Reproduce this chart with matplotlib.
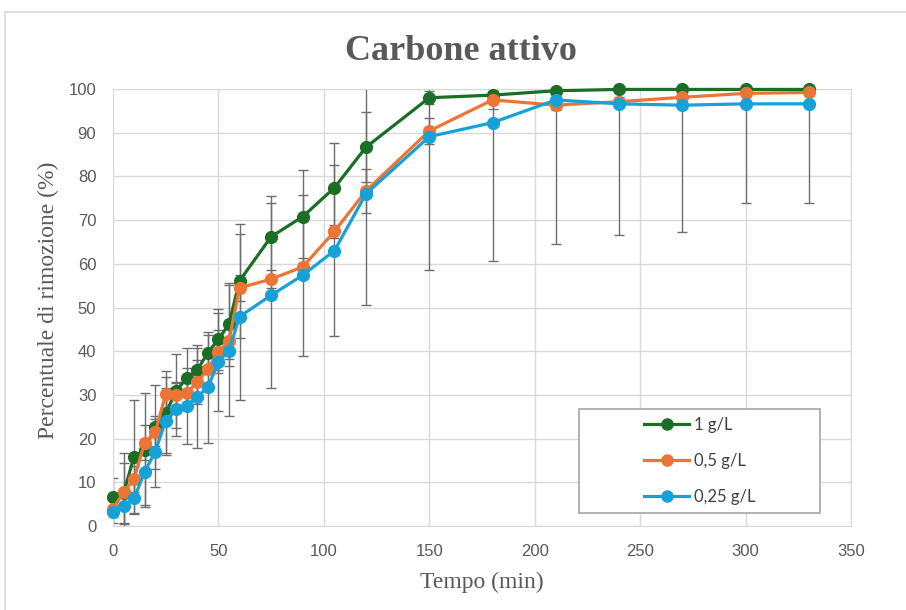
import matplotlib
matplotlib.use("Agg")
import matplotlib.pyplot as plt
from matplotlib.lines import Line2D
from matplotlib.patches import Rectangle

# datos
tempo = [0, 5, 10, 15, 20, 25, 30, 35, 40, 45, 50, 55, 60, 75, 90, 105, 120, 150, 180, 210, 240, 270, 300, 330]

serie_1 = [6.7, 7.5, 15.9, 17.4, 22.7, 25.9, 30.9, 33.9, 35.7, 39.7, 42.7, 46.2, 56.1, 66.2, 70.8, 77.4, 86.7, 98.0, 98.6, 99.6, 99.9, 99.9, 99.9, 99.9]
err_1 = [4.2, 7.0, 12.9, 13.0, 9.6, 9.6, 8.5, 6.8, 5.0, 4.0, 7.0, 9.5, 13.0, 9.3, 10.7, 10.3, 8.0, 1.5, 1.0, 0.3, 0.1, 0.1, 0.1, 0.1]

serie_05 = [4.0, 7.7, 10.7, 19.1, 21.4, 30.2, 30.0, 30.5, 32.9, 35.9, 39.9, 42.3, 54.5, 56.5, 59.3, 67.4, 76.7, 90.4, 97.5, 96.3, 97.1, 98.1, 99.0, 99.2]
err_05 = [2.0, 9.0, 3.0, 4.0, 3.0, 4.0, 3.0, 3.0, 5.0, 4.0, 5.0, 4.0, 3.0, 2.0, 2.0, 1.5, 5.0, 3.0, 2.0, 1.0, 1.0, 1.0, 0.5, 0.5]

serie_025 = [3.1, 4.6, 6.3, 12.4, 17.0, 24.1, 26.7, 27.5, 29.6, 31.7, 37.6, 40.1, 47.9, 52.8, 57.4, 63.0, 76.0, 89.1, 92.3, 97.5, 96.6, 96.3, 96.6, 96.6]
err_025 = [2.5, 4.0, 3.5, 7.5, 8.1, 7.5, 6.1, 8.7, 11.8, 12.6, 11.2, 15.0, 19.0, 21.2, 18.4, 19.5, 25.4, 30.5, 31.7, 33.0, 30.0, 29.0, 22.8, 22.8]

etiquetas = ["1 g/L", "0,5 g/L", "0,25 g/L"]
colores = ["#1b6e25", "#ec7535", "#16a2d8"]

W, H = 906, 610
gris = "#595959"
rejilla = "#d9d9d9"


def grafico():
    fig = plt.figure(figsize=(W / 100, H / 100), dpi=100)
    ax = fig.add_axes([113 / W, 1 - 526 / H, (851 - 113) / W, (526 - 89) / H])

    # marco exterior del grafico (solo se ve arriba y a la izquierda)
    fig.add_artist(Line2D([5 / W, 5 / W], [0, 1 - 12 / H], color=rejilla, lw=1.2, transform=fig.transFigure))
    fig.add_artist(Line2D([5 / W, 1], [1 - 12 / H, 1 - 12 / H], color=rejilla, lw=1.2, transform=fig.transFigure))

    series = [(serie_1, err_1), (serie_05, err_05), (serie_025, err_025)]
    for (y, e), lab, c in zip(series, etiquetas, colores):
        ax.errorbar(tempo, y, yerr=e, fmt="none", ecolor="#6e6e6e", elinewidth=1.0,
                    capsize=3.6, capthick=1.0, zorder=2)
    for (y, e), lab, c in zip(series, etiquetas, colores):
        ax.plot(tempo, y, color=c, lw=2.3, marker="o", markersize=8.5, label=lab,
                zorder=3, clip_on=False)

    ax.set_xlim(0, 350)
    ax.set_ylim(0, 100)
    ax.set_xticks(range(0, 351, 50))
    ax.set_yticks(range(0, 101, 10))
    ax.grid(True, color=rejilla, lw=1.0)
    ax.set_axisbelow(True)
    for sp in ax.spines.values():
        sp.set_color(rejilla)
    ax.tick_params(axis="both", length=0, colors=gris, labelsize=12)
    ax.tick_params(axis="y", pad=12)
    ax.tick_params(axis="x", pad=13)
    for t in ax.get_xticklabels() + ax.get_yticklabels():
        t.set_fontfamily("Liberation Sans")

    fig.text(461 / W, 1 - 52 / H, "Carbone attivo", ha="center", va="center",
             fontsize=26, fontweight="bold", color=gris, family="Liberation Serif")
    fig.text(482 / W, 1 - 582 / H, "Tempo (min)", ha="center", va="center",
             fontsize=17, color=gris, family="Liberation Serif")
    fig.text(48 / W, 1 - 300 / H, "Percentuale di rimozione (%)", ha="center", va="center",
             rotation=90, fontsize=17, color=gris, family="Liberation Serif")

    # leyenda con su caja
    fig.add_artist(Rectangle((579 / W, 1 - 513 / H), (820 - 579) / W, (513 - 409) / H,
                             transform=fig.transFigure, fill=True, facecolor="white",
                             edgecolor="#a6a6a6", lw=1.2, zorder=5))
    leg = fig.legend(loc="center", bbox_to_anchor=(700 / W, 1 - 461 / H), frameon=False,
                     handlelength=2.7, handletextpad=0.3, labelspacing=1.2,
                     prop={"family": "Lato", "size": 12})
    leg.set_zorder(6)
    for t in leg.get_texts():
        t.set_color("#404040")
    for h in leg.legend_handles:
        h.set_markersize(8)

    fig.savefig("out.png", dpi=100)
    plt.close(fig)


if __name__ == "__main__":
    grafico()
